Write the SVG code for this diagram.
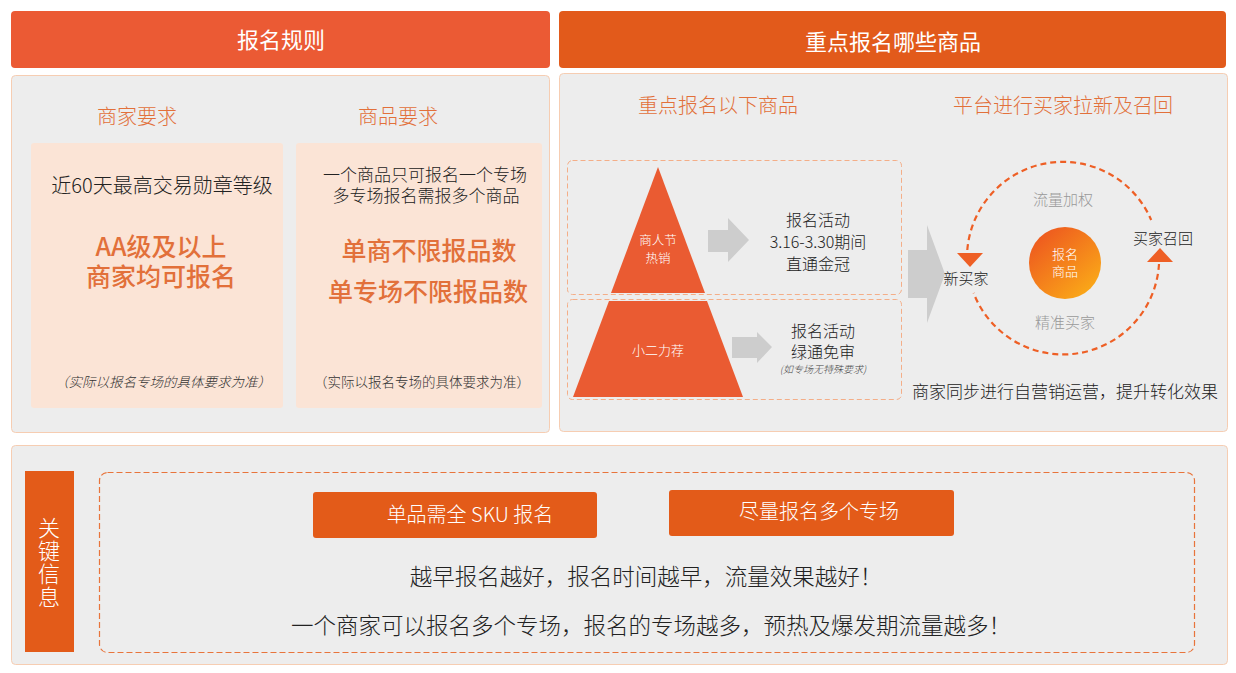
<svg xmlns="http://www.w3.org/2000/svg" width="1236" height="673" viewBox="0 0 1236 673">
<style>
text{font-family:"Noto Sans CJK SC","Liberation Sans",sans-serif;text-anchor:middle;font-weight:300}
.hd{fill:#fff;font-size:22px;font-weight:400}
.sub{fill:#E2703A;font-size:20px}
.panel{fill:#EDEDED;stroke:#F6CDB2;stroke-width:1}
.card{fill:#FBE4D6}
.dk{fill:#222;}
.big{fill:#E2703A;font-size:25px;font-weight:500}
.note{fill:#333;font-size:13.5px}
.dash{fill:none;stroke:#F4AE88;stroke-width:1;stroke-dasharray:5 3}
.tri{fill:#EA5B32}
.garr{fill:#CDCDCD}
.wt{fill:#fff}
.btn{fill:#E35B19}
.cyc{fill:none;stroke:#EE5F25;stroke-width:2.2;stroke-dasharray:6 4}
</style>
<defs>
<linearGradient id="g" x1="0.15" y1="0.1" x2="0.85" y2="0.9">
<stop offset="0" stop-color="#EE5A1F"/>
<stop offset="1" stop-color="#FAA818"/>
</linearGradient>
</defs>
<rect width="1236" height="673" fill="#fff"/>

<g id="header-left">
<rect x="11" y="11" width="539" height="57" rx="4" fill="#EB5A34"/>
<text class="hd" x="281" y="48">报名规则</text>
</g>
<g id="header-right">
<rect x="559" y="11" width="667" height="57" rx="4" fill="#E25A1B"/>
<text class="hd" x="893" y="50">重点报名哪些商品</text>
</g>

<g id="panel-left">
<rect class="panel" x="11.5" y="75.5" width="538" height="357" rx="4"/>
<text class="sub" x="137" y="124">商家要求</text>
<text class="sub" x="398" y="124">商品要求</text>
</g>
<g id="card-merchant">
<rect class="card" x="31" y="143" width="252" height="265" rx="3"/>
<text class="dk" x="162" y="193" font-size="20">近60天最高交易勋章等级</text>
<text class="big"><tspan x="161" y="256">AA级及以上</tspan><tspan x="161" y="286">商家均可报名</tspan></text>
<text class="note" x="163" y="387" font-style="italic">（实际以报名专场的具体要求为准）</text>
</g>
<g id="card-product">
<rect class="card" x="296" y="143" width="246" height="265" rx="3"/>
<text class="dk" font-size="17"><tspan x="425" y="181">一个商品只可报名一个专场</tspan><tspan x="426" y="202">多专场报名需报多个商品</tspan></text>
<text class="big" x="429" y="260" font-size="23">单商不限报品数</text>
<text class="big" x="428" y="301" font-size="23">单专场不限报品数</text>
<text class="note" x="422" y="387">（实际以报名专场的具体要求为准）</text>
</g>

<g id="panel-right">
<rect class="panel" x="559.5" y="73.5" width="668" height="358" rx="4"/>
<text class="sub" x="718" y="113">重点报名以下商品</text>
<text class="sub" x="1063" y="113">平台进行买家拉新及召回</text>
</g>

<g id="tier-top">
<rect class="dash" x="567.5" y="160.5" width="334" height="134" rx="5"/>
<polygon class="tri" points="658,167 705,293 611,293"/>
<text class="wt" font-size="12.5"><tspan x="658" y="245">商人节</tspan><tspan x="658" y="263">热销</tspan></text>
</g>
<g id="tier-bottom">
<rect class="dash" x="567.5" y="299.5" width="334" height="100" rx="5"/>
<polygon class="tri" points="609,301 707,301 743,397 573,397"/>
<text class="wt" x="658" y="355" font-size="13">小二力荐</text>
</g>

<g id="connectors">
<polygon class="garr" points="708,230 728,230 728,218 749,240 728,262 728,252 708,252"/>
<polygon class="garr" points="732,337 757,337 757,332 772,347 757,363 757,358 732,358"/>
<polygon class="garr" points="908,250 927,250 927,225 945,274 927,323 927,298 908,298"/>
<path class="cyc" d="M967.3 250 A96 96 0 0 1 1151.2 220"/>
<path class="cyc" d="M1159 264 A96 96 0 0 1 973.6 293"/>
<polygon fill="#EE5F25" points="957,253 983,253 970,267"/>
<polygon fill="#EE5F25" points="1147,262 1173,262 1160,248"/>
</g>

<g id="text-top-activity">
<text class="dk" font-size="16"><tspan x="818" y="226">报名活动</tspan><tspan x="818" y="248">3.16-3.30期间</tspan><tspan x="818" y="270">直通金冠</tspan></text>
</g>
<g id="text-bottom-activity">
<text class="dk" font-size="16"><tspan x="823" y="337">报名活动</tspan><tspan x="823" y="358">绿通免审</tspan></text>
<text x="823" y="373" font-size="10" font-style="italic" fill="#444">(如专场无特殊要求)</text>
</g>

<g id="cycle-center">
<circle cx="1065" cy="263" r="36" fill="url(#g)"/>
<text class="wt" font-size="13"><tspan x="1065" y="259">报名</tspan><tspan x="1065" y="276">商品</tspan></text>
</g>
<g id="node-new-buyer"><text class="dk" x="966" y="284" font-size="15">新买家</text></g>
<g id="node-recall"><text class="dk" x="1163" y="244" font-size="15">买家召回</text></g>
<g id="label-traffic"><text x="1063" y="205" font-size="15" fill="#999">流量加权</text></g>
<g id="label-precise"><text x="1065" y="328" font-size="15" fill="#999">精准买家</text></g>
<g id="text-selfops"><text class="dk" x="1065" y="398" font-size="17">商家同步进行自营销运营，提升转化效果</text></g>

<g id="panel-bottom">
<rect class="panel" x="11.5" y="445.5" width="1216" height="219" rx="4"/>
</g>
<g id="key-info-bar">
<rect class="btn" x="25" y="471" width="49" height="181"/>
<text class="wt" x="49" y="563" font-size="22" style="writing-mode:vertical-rl" letter-spacing="1">关键信息</text>
</g>
<g id="key-info-box">
<rect x="99.5" y="472.5" width="1095" height="180" rx="8" fill="none" stroke="#E8743B" stroke-width="1.2" stroke-dasharray="6 3"/>
</g>
<g id="btn-sku">
<rect class="btn" x="313" y="492" width="284" height="46" rx="3"/>
<text class="wt" x="470" y="522" font-size="20">单品需全 SKU 报名</text>
</g>
<g id="btn-multi">
<rect class="btn" x="669" y="490" width="285" height="46" rx="3"/>
<text class="wt" x="819" y="519" font-size="20">尽量报名多个专场</text>
</g>
<g id="key-lines">
<text class="dk" x="646" y="585" font-size="22.5">越早报名越好，报名时间越早，流量效果越好！</text>
<text class="dk" x="651" y="634" font-size="22.5">一个商家可以报名多个专场，报名的专场越多，预热及爆发期流量越多！</text>
</g>
</svg>
